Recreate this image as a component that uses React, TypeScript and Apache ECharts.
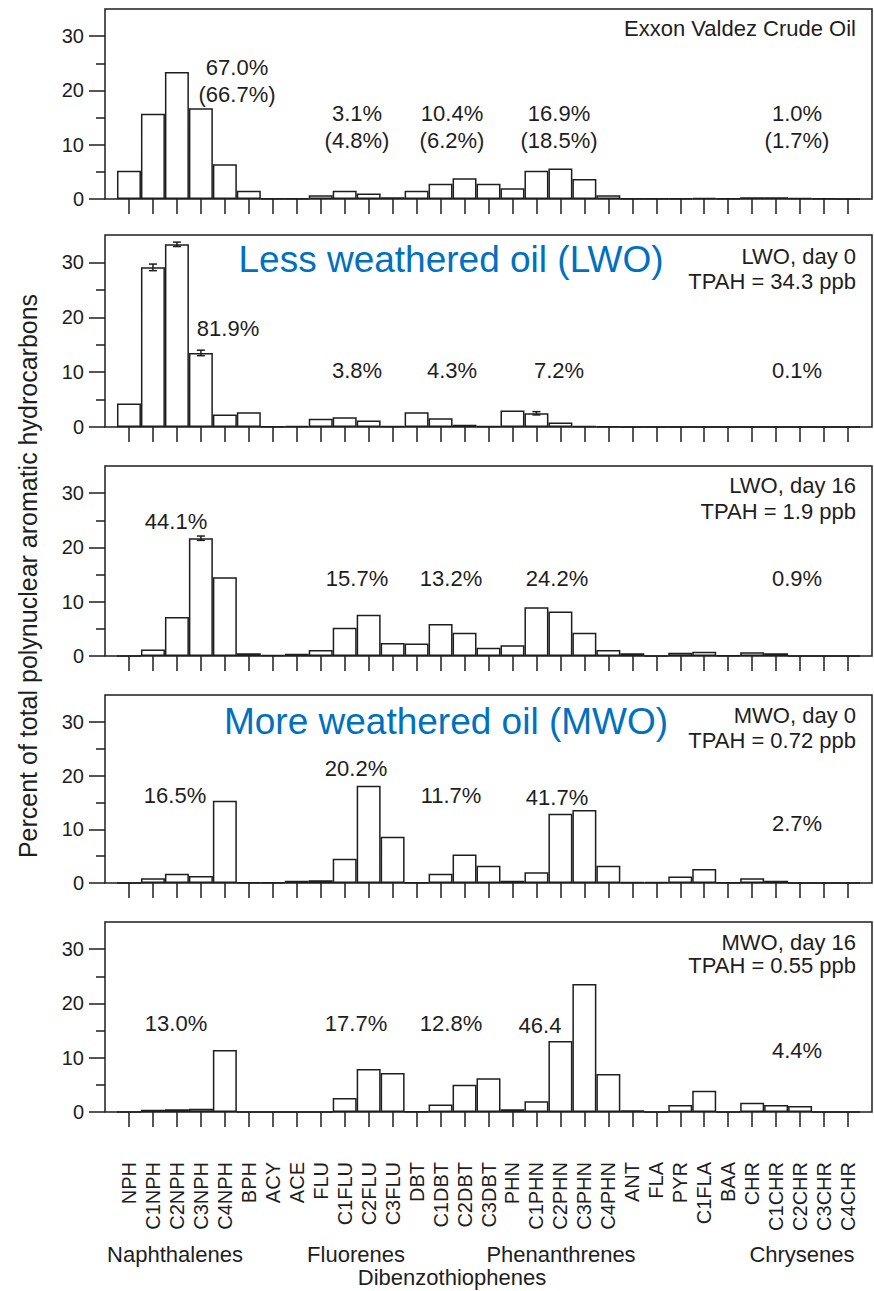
import React, { useEffect, useRef } from 'react';
import * as echarts from 'echarts';

// ---------- data ----------
const categories = [
  'NPH', 'C1NPH', 'C2NPH', 'C3NPH', 'C4NPH', 'BPH', 'ACY', 'ACE', 'FLU', 'C1FLU', 'C2FLU', 'C3FLU',
  'DBT', 'C1DBT', 'C2DBT', 'C3DBT', 'PHN', 'C1PHN', 'C2PHN', 'C3PHN', 'C4PHN', 'ANT', 'FLA', 'PYR',
  'C1FLA', 'BAA', 'CHR', 'C1CHR', 'C2CHR', 'C3CHR', 'C4CHR',
];

const crudeOil = [5.2, 15.7, 23.4, 16.7, 6.4, 1.5, 0.05, 0.05, 0.7, 1.5, 1.0, 0.3, 1.5, 2.8, 3.8, 2.8, 2.0, 5.2, 5.6, 3.7, 0.7, 0.05, 0.05, 0.1, 0.2, 0.05, 0.3, 0.3, 0.2, 0.05, 0];
const lwoDay0 = [4.3, 29.1, 33.3, 13.5, 2.3, 2.7, 0.1, 0.2, 1.5, 1.8, 1.2, 0.2, 2.7, 1.6, 0.4, 0.2, 3.0, 2.5, 0.8, 0.2, 0.1, 0, 0, 0, 0, 0, 0, 0, 0, 0, 0];
const lwoDay16 = [0, 1.2, 7.2, 21.7, 14.5, 0.5, 0.2, 0.4, 1.1, 5.2, 7.6, 2.4, 2.3, 5.9, 4.3, 1.5, 2.0, 9.0, 8.2, 4.3, 1.1, 0.5, 0, 0.6, 0.8, 0.1, 0.7, 0.5, 0, 0, 0];
const mwoDay0 = [0, 0.9, 1.7, 1.3, 15.3, 0.1, 0.1, 0.4, 0.5, 4.5, 18.1, 8.6, 0.1, 1.7, 5.3, 3.2, 0.4, 2.0, 12.9, 13.6, 3.2, 0.2, 0.2, 1.2, 2.6, 0.1, 0.9, 0.4, 0, 0, 0];
const mwoDay16 = [0, 0.4, 0.5, 0.6, 11.4, 0, 0, 0, 0, 2.6, 7.9, 7.2, 0.1, 1.4, 5.0, 6.2, 0.5, 2.0, 13.1, 23.6, 7.0, 0.3, 0, 1.3, 3.9, 0, 1.7, 1.3, 1.1, 0, 0];

const lwoDay0Errors: Record<string, number> = { C1NPH: 0.6, C2NPH: 0.4, C3NPH: 0.5, C1PHN: 0.3 };
const lwoDay16Errors: Record<string, number> = { C3NPH: 0.4 };

const panelSeries = [crudeOil, lwoDay0, lwoDay16, mwoDay0, mwoDay16];
const panelErrors: Record<string, number>[] = [{}, lwoDay0Errors, lwoDay16Errors, {}, {}];

const yTickValues = [0, 10, 20, 30];
const yMinorTickValues = [5, 15, 25];

const panelLabels = [
  ['Exxon Valdez Crude Oil'],
  ['LWO, day 0', 'TPAH = 34.3 ppb'],
  ['LWO, day 16', 'TPAH = 1.9 ppb'],
  ['MWO, day 0', 'TPAH = 0.72 ppb'],
  ['MWO, day 16', 'TPAH = 0.55 ppb'],
];

const groupPercents = [
  ['67.0%\n(66.7%)', '3.1%\n(4.8%)', '10.4%\n(6.2%)', '16.9%\n(18.5%)', '1.0%\n(1.7%)'],
  ['81.9%', '3.8%', '4.3%', '7.2%', '0.1%'],
  ['44.1%', '15.7%', '13.2%', '24.2%', '0.9%'],
  ['16.5%', '20.2%', '11.7%', '41.7%', '2.7%'],
  ['13.0%', '17.7%', '12.8%', '46.4', '4.4%'],
];

const groupNames = ['Naphthalenes', 'Fluorenes', 'Phenanthrenes', 'Chrysenes', 'Dibenzothiophenes'];
const blueTitles = ['Less weathered oil (LWO)', 'More weathered oil (MWO)'];
const yAxisTitle = 'Percent of total polynuclear aromatic hydrocarbons';

// ---------- layout ----------
const FONT = '"Liberation Sans", Arial, Helvetica, sans-serif';
const INK = '#1e1e1e';
const BLUE = '#0070C0';
const GRID_LEFT = 105;
const GRID_WIDTH = 767;
const panelTops = [9, 235, 466, 695, 922];
const panelZeros = [199, 427, 656, 883, 1112];

// annotation positions: [x center, y offset from zero line]
const percentPos = [
  [[237, -118], [357, -72], [452, -72], [559, -72], [797, -72]],
  [[228, -99], [357, -57], [452, -57], [559, -57], [797, -57]],
  [[176, -135], [357, -78], [451, -78], [557, -78], [797, -78]],
  [[175, -88], [356, -115], [451, -88], [557, -86], [797, -60]],
  [[176, -89], [356, -89], [451, -89], [540, -87], [797, -62]],
];
const labelLineOffsets = [[-171], [-171, -146], [-171, -145], [-168, -143], [-170, -147]];
const groupPos = [[175, 1254], [356, 1254], [561, 1254], [802, 1254], [452, 1277]];
const bluePos = [[451, 259], [446, 721]];

export default function App() {
  const ref = useRef<HTMLDivElement>(null);

  useEffect(() => {
    if (!ref.current) return;
    const chart = echarts.init(ref.current, null, { renderer: 'svg' });
    const axisCats = ['', ...categories, ''];

    const grids: any[] = [];
    const xAxes: any[] = [];
    const yAxes: any[] = [];
    const series: any[] = [];
    const graphics: any[] = [];

    panelSeries.forEach((values, i) => {
      grids.push({
        left: GRID_LEFT,
        width: GRID_WIDTH,
        top: panelTops[i],
        height: panelZeros[i] - panelTops[i],
        show: true,
        borderColor: INK,
        borderWidth: 1.5,
        backgroundColor: 'transparent',
      });
      xAxes.push({
        type: 'category',
        gridIndex: i,
        data: axisCats,
        boundaryGap: false,
        axisLine: { show: false },
        axisTick: {
          show: true,
          length: 15,
          interval: (idx: number) => idx > 0 && idx < axisCats.length - 1,
          lineStyle: { color: INK, width: 1.5 },
        },
        axisLabel: i === panelSeries.length - 1
          ? { show: true, interval: 0, rotate: 90, margin: 50, fontSize: 20, color: INK, fontFamily: FONT }
          : { show: false },
        splitLine: { show: false },
      });
      yAxes.push({
        type: 'value',
        gridIndex: i,
        position: 'left',
        min: 0,
        max: 35,
        axisLine: { show: false },
        splitLine: { show: false },
        axisTick: { show: true, length: 16, customValues: yTickValues, lineStyle: { color: INK, width: 1.5 } },
        axisLabel: { show: true, customValues: yTickValues, margin: 21, fontSize: 20, color: INK, fontFamily: FONT },
      });
      yAxes.push({
        type: 'value',
        gridIndex: i,
        position: 'left',
        min: 0,
        max: 35,
        axisLine: { show: false },
        splitLine: { show: false },
        axisTick: { show: true, length: 9, customValues: yMinorTickValues, lineStyle: { color: INK, width: 1.5 } },
        axisLabel: { show: false },
      });
      series.push({
        type: 'bar',
        xAxisIndex: i,
        yAxisIndex: 2 * i,
        barCategoryGap: '0%',
        data: values.map((v, k) => [k + 1, v]),
        itemStyle: { color: '#ffffff', borderColor: INK, borderWidth: 1.5 },
        emphasis: { disabled: true },
      });
      const errs = panelErrors[i];
      const errData = Object.keys(errs).map((name) => {
        const k = categories.indexOf(name);
        return [k + 1, values[k], errs[name]];
      });
      if (errData.length) {
        series.push({
          type: 'custom',
          xAxisIndex: i,
          yAxisIndex: 2 * i,
          data: errData,
          z: 5,
          renderItem: (_p: any, api: any) => {
            const x = api.value(0);
            const v = api.value(1);
            const e = api.value(2);
            const hi = api.coord([x, v + e]);
            const lo = api.coord([x, v - e]);
            const st = { stroke: INK, lineWidth: 1.5 };
            return {
              type: 'group',
              children: [
                { type: 'line', shape: { x1: hi[0], y1: hi[1], x2: lo[0], y2: lo[1] }, style: st },
                { type: 'line', shape: { x1: hi[0] - 4, y1: hi[1], x2: hi[0] + 4, y2: hi[1] }, style: st },
                { type: 'line', shape: { x1: lo[0] - 4, y1: lo[1], x2: lo[0] + 4, y2: lo[1] }, style: st },
              ],
            };
          },
        });
      }

      // group percentage annotations
      groupPercents[i].forEach((txt, j) => {
        const [x, dy] = percentPos[i][j];
        graphics.push({
          type: 'text',
          x,
          y: panelZeros[i] + dy,
          silent: true,
          style: {
            text: txt,
            font: `22px ${FONT}`,
            fill: INK,
            align: 'center',
            verticalAlign: 'middle',
            lineHeight: 27,
          },
        });
      });
      // panel labels (right aligned)
      panelLabels[i].forEach((txt, j) => {
        graphics.push({
          type: 'text',
          x: 856,
          y: panelZeros[i] + labelLineOffsets[i][j],
          silent: true,
          style: { text: txt, font: `22px ${FONT}`, fill: INK, align: 'right', verticalAlign: 'middle' },
        });
      });
    });

    groupNames.forEach((name, j) => {
      graphics.push({
        type: 'text',
        x: groupPos[j][0],
        y: groupPos[j][1],
        silent: true,
        style: { text: name, font: `22px ${FONT}`, fill: INK, align: 'center', verticalAlign: 'middle' },
      });
    });

    blueTitles.forEach((t, j) => {
      graphics.push({
        type: 'text',
        x: bluePos[j][0],
        y: bluePos[j][1],
        silent: true,
        style: { text: t, font: `37px ${FONT}`, fill: BLUE, align: 'center', verticalAlign: 'middle' },
      });
    });

    graphics.push({
      type: 'text',
      x: 28,
      y: 576,
      rotation: Math.PI / 2,
      silent: true,
      style: { text: yAxisTitle, font: `25px ${FONT}`, fill: INK, align: 'center', verticalAlign: 'middle' },
    });

    chart.setOption({
      animation: false,
      backgroundColor: '#ffffff',
      grid: grids,
      xAxis: xAxes,
      yAxis: yAxes,
      series,
      graphic: graphics,
    });

    return () => chart.dispose();
  }, []);

  return (
    <div
      ref={ref}
      style={{ position: 'absolute', left: 0, top: 0, width: 874, height: 1291, background: '#fff' }}
    />
  );
}
